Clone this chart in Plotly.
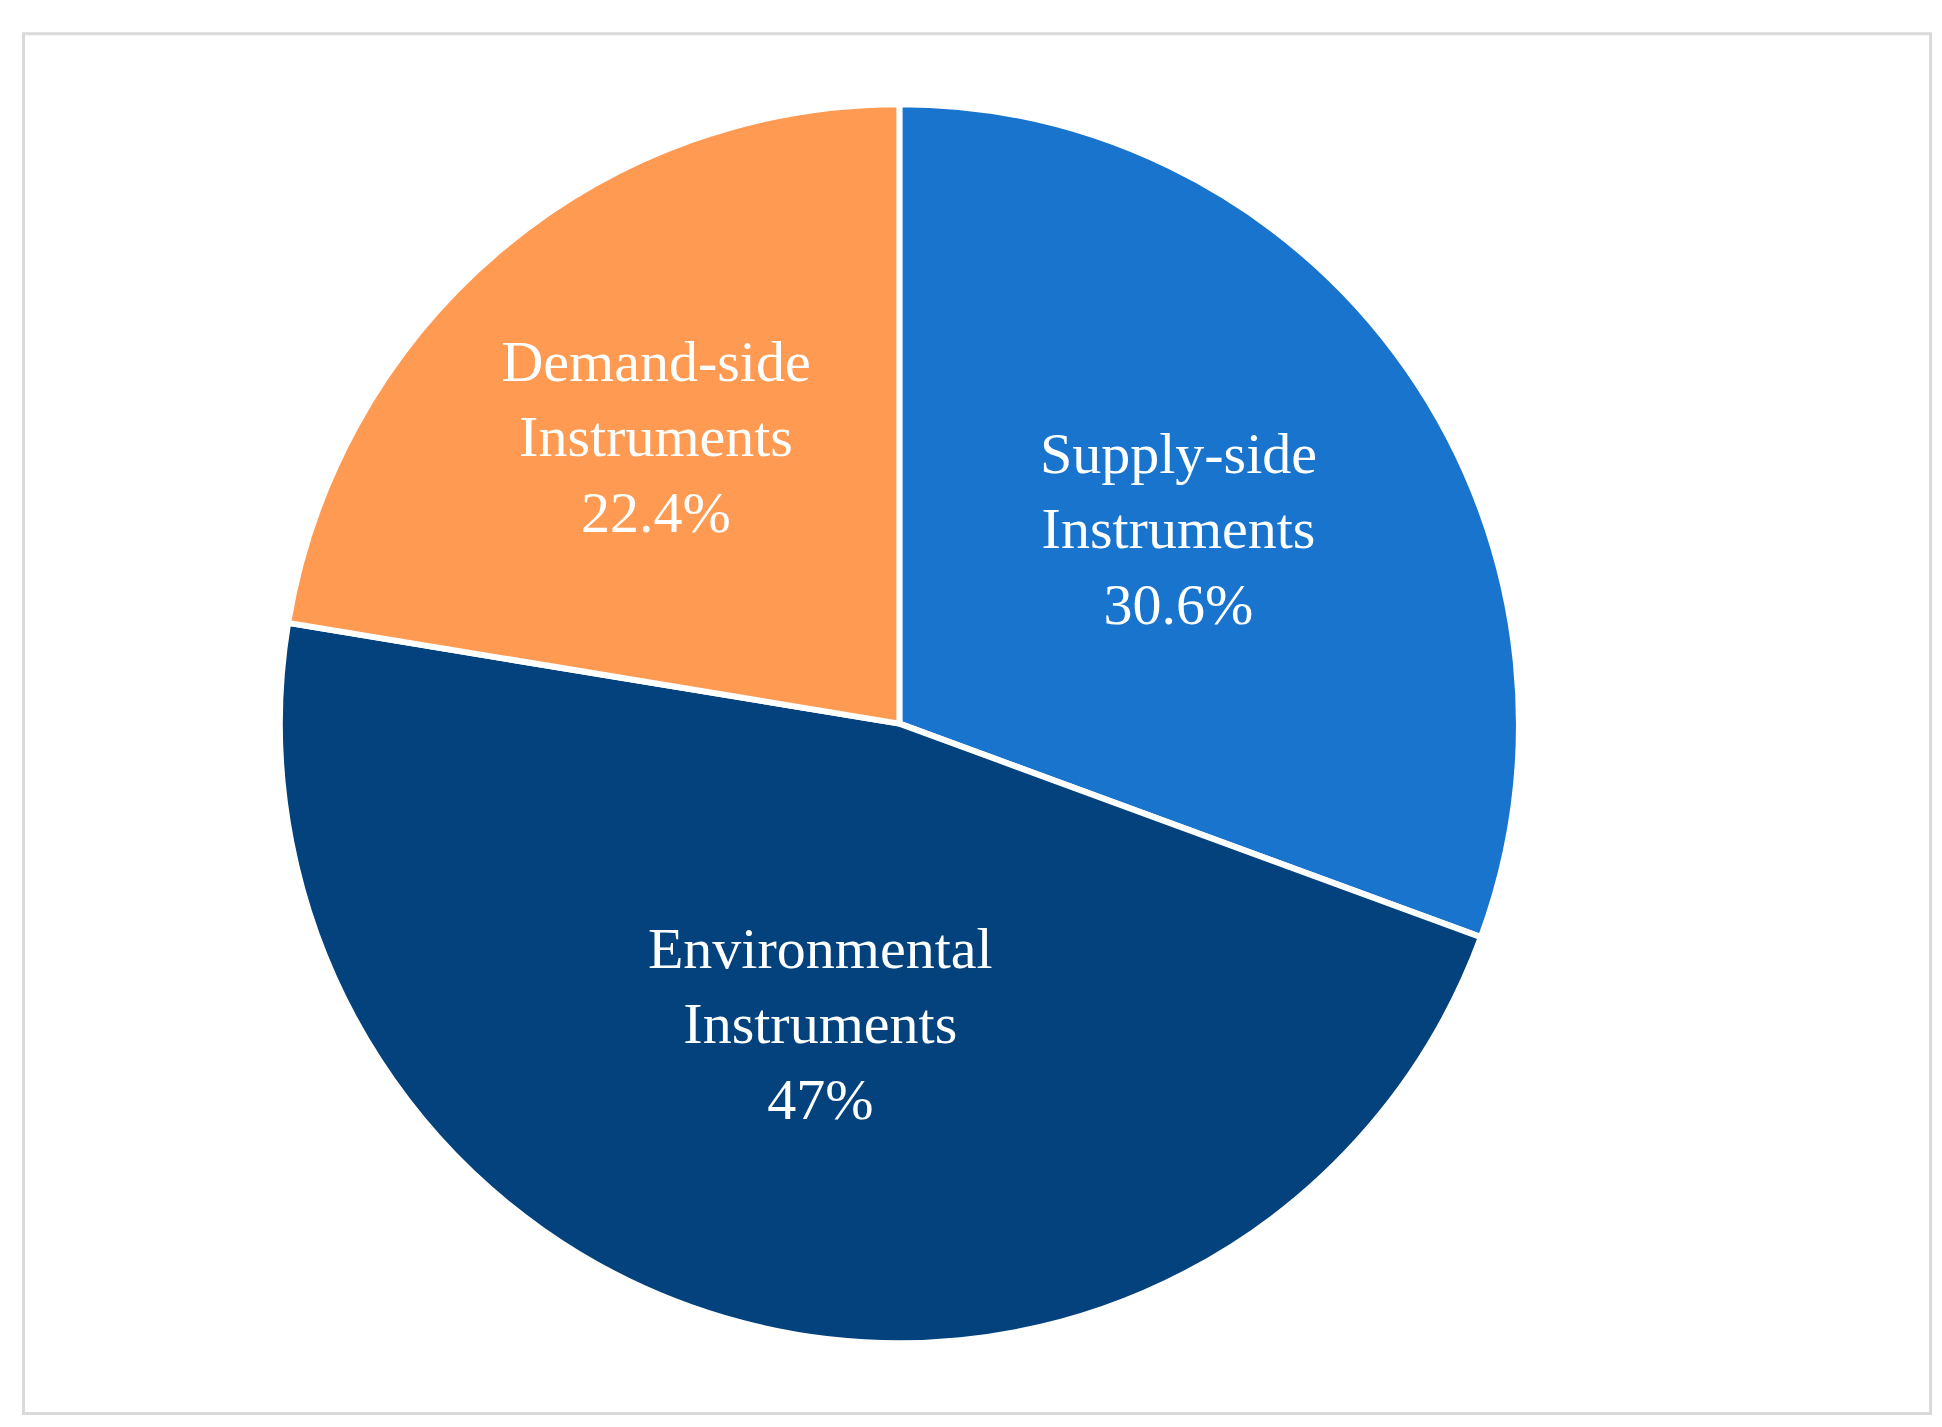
import plotly.graph_objects as go

labels = ["Supply-side Instruments", "Environmental Instruments", "Demand-side Instruments"]
values = [30.6, 47.0, 22.4]
pct_text = ["30.6%", "47%", "22.4%"]
colors = ["#1874CD", "#03427C", "#FF9A52"]

text = [l.replace(" ", "<br>") + "<br>" + p for l, p in zip(labels, pct_text)]

fig = go.Figure(go.Pie(
    labels=labels, values=values, text=text, textinfo="text",
    sort=False, direction="clockwise", rotation=0,
    marker=dict(colors=colors, line=dict(color="white", width=6)),
    textposition="inside", insidetextorientation="horizontal",
    textfont=dict(family="Liberation Serif", size=58, color="white"),
    domain=dict(x=[0.14, 0.778], y=[0.064, 0.933]),
    hoverinfo="skip",
))
fig.update_layout(
    width=1942, height=1427, showlegend=False,
    margin=dict(l=0, r=0, t=0, b=0),
    paper_bgcolor="white",
    uniformtext=dict(minsize=58, mode="show"),
    shapes=[dict(type="rect", xref="paper", yref="paper", x0=0.008, x1=0.99,
                 y0=0.015, y1=0.982, line=dict(color="#D9D9D9", width=3))],
)
fig.write_html("out.html")
